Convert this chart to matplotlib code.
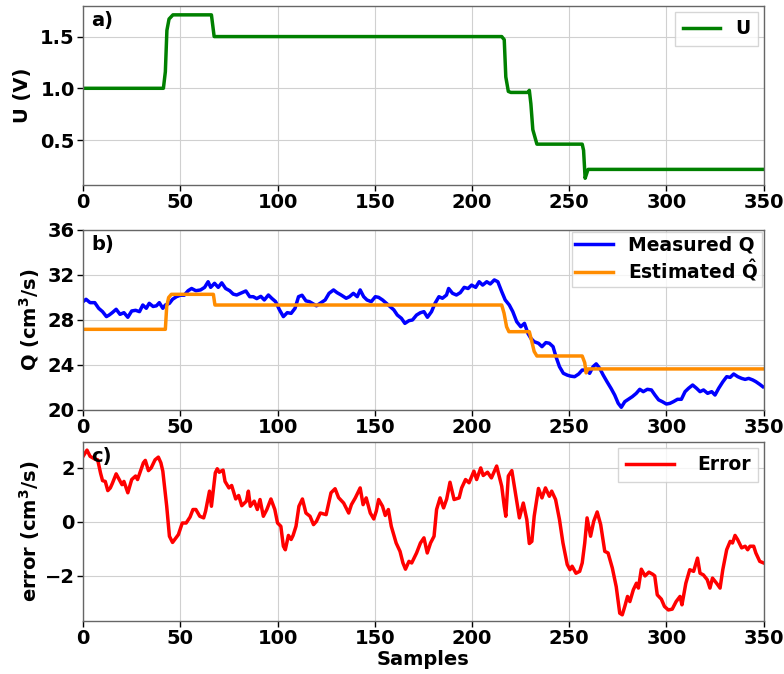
import matplotlib
matplotlib.use("Agg")
import matplotlib.pyplot as plt

# ---------------- data ----------------
u_s = [0, 41.3, 42.3, 43.1, 44.2, 46.2, 66, 67.4, 215.3, 216.6, 217.4, 218.7, 220,
       228.8, 229.5, 230.3, 231.3, 233.4, 256.7, 257.4, 258.2, 259.7, 350]
u_v = [1.0, 1.0, 1.16, 1.56, 1.67, 1.71, 1.71, 1.5, 1.5, 1.47, 1.11, 0.97, 0.96,
       0.96, 0.98, 0.85, 0.6, 0.46, 0.46, 0.4, 0.13, 0.216, 0.216]

qe_s = [0, 42.3, 43, 44, 45.4, 67, 67.8, 215.3, 216.5, 217.8, 219, 229.5, 230.8,
        232, 233.4, 256.7, 258, 258.7, 259.7, 350]
qe_v = [27.17, 27.17, 29.2, 30.0, 30.28, 30.28, 29.33, 29.33, 28.6, 27.4, 26.96,
        26.96, 26.07, 25.2, 24.8, 24.8, 24.2, 23.3, 23.65, 23.65]

qm_s = [0, 1.5, 3.6, 6, 8, 10, 12, 13.4, 15, 17, 19, 21, 23, 25, 27, 29, 30.7, 32.5,
        34, 36, 37.7, 39.2, 41, 42.3, 44.4, 46, 48, 50, 52, 54, 55.8, 58, 60.4, 62.5,
        64.3, 65.6, 67.6, 69.5, 71.3, 73.3, 75.4, 77.2, 79, 81, 83.7, 85.7, 87.5,
        89.3, 91.4, 93.2, 95.3, 97, 99, 101, 103, 105, 107, 109, 110.8, 112.6, 114.6,
        116.4, 118.5, 120, 122.4, 124.5, 126.5, 128.8, 130.6, 132.7, 135.3, 137, 139,
        141, 142.5, 144.3, 146, 148.2, 150.3, 152, 154, 156, 158, 159.8, 161.6, 163.7,
        165.5, 167.6, 169.4, 171.5, 173.5, 175.3, 177.1, 179.2, 181, 183, 184.8,
        186.9, 188, 190, 192, 194, 196, 198, 199.8, 201.9, 203.7, 205.5, 207.6,
        209.4, 211.5, 213.3, 215.3, 217.1, 219.2, 221, 223, 225.1, 227, 228.8, 230.3,
        232, 234.2, 236, 238, 239.8, 241.7, 243.2, 245, 247, 249, 250.7, 252.8, 254.9,
        256.7, 258.8, 260.5, 262.3, 263.9, 265.7, 267.5, 269.5, 271.6, 273.4, 275.2,
        276.8, 278.6, 280.4, 282.5, 284.5, 286.3, 288.1, 290.2, 292.3, 294.1, 296,
        297.9, 300, 301.8, 303.6, 305.7, 307.7, 309.6, 311.4, 313.5, 315.5, 317.3,
        319.1, 321.2, 323.3, 325, 326.9, 329, 331, 332.8, 334.6, 336.7, 338.7, 340.5,
        342.3, 344.4, 346, 348, 349.6]
qm_v = [29.63, 29.84, 29.54, 29.54, 29.04, 28.74, 28.3, 28.44, 28.65, 28.95, 28.5,
        28.65, 28.24, 28.8, 28.86, 28.74, 29.33, 29.04, 29.48, 29.2, 29.26, 29.54,
        29.04, 29.33, 29.48, 29.84, 30.07, 30.2, 30.2, 30.6, 30.8, 30.6, 30.67, 30.9,
        31.4, 30.9, 31.26, 30.9, 31.3, 30.8, 30.6, 30.3, 30.22, 30.37, 30.58, 30.07,
        30.07, 29.9, 30.1, 29.78, 30.22, 29.93, 29.63, 28.9, 28.3, 28.65, 28.59,
        29.04, 30.07, 30.2, 29.7, 29.63, 29.42, 29.26, 29.54, 29.78, 30.37, 30.67,
        30.43, 30.22, 29.93, 30.07, 30.37, 30.07, 30.67, 30.07, 29.78, 29.63, 30.07,
        30.01, 29.78, 29.48, 29.19, 28.9, 28.44, 28.15, 27.7, 27.94, 28.0, 28.44,
        28.65, 28.74, 28.24, 28.74, 29.48, 30.07, 29.93, 30.22, 30.8, 30.37, 30.22,
        30.43, 30.9, 30.8, 31.1, 30.9, 31.4, 31.1, 31.4, 31.2, 31.56, 31.4, 30.52,
        29.78, 29.33, 28.74, 27.85, 27.4, 27.7, 26.8, 26.37, 26.07, 25.93, 25.63,
        25.99, 25.93, 25.63, 24.74, 23.85, 23.26, 23.1, 23.01, 22.96, 23.2, 23.55,
        23.55, 23.26, 23.85, 24.1, 23.7, 23.1, 22.5, 21.9, 21.33, 20.6, 20.24, 20.74,
        20.95, 21.19, 21.48, 21.84, 21.63, 21.84, 21.78, 21.33, 20.9, 20.74, 20.53,
        20.59, 20.74, 20.95, 20.95, 21.63, 21.93, 22.22, 21.93, 21.63, 21.78, 21.48,
        21.63, 21.33, 21.93, 22.5, 22.96, 22.9, 23.2, 22.96, 22.81, 22.72, 22.81,
        22.67, 22.52, 22.28, 22.07]

err_s = [0, 2, 3.6, 6, 7.5, 9, 10, 11.4, 12.7, 14, 15, 17, 18.6, 20, 21, 23, 25, 27,
         28, 31, 32, 33.6, 35, 37, 38.7, 40, 41, 43, 44.4, 46, 49, 51, 53, 55, 56.5,
         58, 60, 62, 63, 65, 66, 68, 69, 70, 72, 73, 75, 76.4, 78.5, 80, 81.6, 84, 85,
         86, 88, 89.6, 91, 92.7, 94.5, 96.6, 98.6, 100, 101.7, 103, 104, 105.6, 107,
         108, 109.5, 111, 112.8, 114.6, 116.7, 118.5, 120, 122, 125, 127.5, 129.6,
         131.4, 134, 136.6, 138, 140, 142.5, 144, 145.6, 147.7, 149.5, 150.8, 152,
         154, 155.4, 157, 158.5, 161, 163, 164.5, 165.8, 167.6, 169, 171.5, 173.5,
         175.3, 177, 178.7, 180.5, 181.8, 183.6, 185.4, 187, 188.7, 190.8, 193.4,
         194.7, 196.7, 198.5, 201, 202.4, 204.5, 205.8, 208, 210, 212.7, 215.3, 216.6,
         217.4, 218.7, 220.5, 222.6, 224.4, 226.4, 228.2, 229.5, 230.8, 232, 234.2,
         236, 237.8, 239.8, 241, 243, 245, 246.8, 249, 250.4, 251.5, 253.5, 255.4,
         256.7, 258, 259.2, 261, 262.6, 264.4, 266.2, 268.3, 270, 272.2, 274.2, 276,
         277.3, 278.6, 280, 281.2, 283, 284.6, 285.6, 287.1, 289, 291, 293, 294,
         295.3, 297.4, 299, 301, 303, 305, 307, 308, 310, 312, 314, 316, 317.3, 319,
         321, 322.4, 323.7, 325.8, 327.6, 329, 331, 332.8, 334, 335.3, 336.6, 338.7,
         340.5, 341.8, 343, 344.9, 346, 348, 350]
err_v = [2.43, 2.66, 2.43, 2.33, 2.3, 1.8, 1.53, 1.5, 1.16, 1.26, 1.42, 1.78, 1.57,
         1.38, 1.5, 1.08, 1.57, 1.7, 1.57, 2.19, 2.28, 1.9, 2.0, 2.3, 2.4, 2.19, 1.88,
         0.58, -0.53, -0.76, -0.47, -0.04, -0.04, 0.18, 0.46, 0.46, 0.21, 0.15, 0.4,
         1.14, 0.58, 1.82, 1.97, 1.84, 1.92, 1.5, 1.26, 1.35, 0.85, 0.98, 0.6, 0.77,
         1.14, 0.58, 0.77, 0.46, 0.83, 0.21, 0.46, 0.85, 0.46, -0.04, -0.16, -0.9,
         -1.03, -0.5, -0.65, -0.5, -0.16, 0.58, 0.85, 0.33, 0.21, -0.1, 0.02, 0.33,
         0.27, 1.08, 1.23, 0.9, 0.7, 0.33, 0.64, 0.89, 1.26, 0.64, 0.89, 0.33, 0.11,
         0.4, 0.83, 0.58, 0.24, 0.46, -0.16, -0.78, -1.09, -1.52, -1.75, -1.46,
         -1.52, -1.15, -0.78, -0.59, -1.15, -0.78, -0.53, 0.46, 0.89, 0.52, 0.85, 1.47,
         0.83, 0.89, 1.26, 1.57, 1.45, 1.88, 1.57, 2.0, 1.72, 1.84, 1.63, 2.07, 1.32,
         0.58, 0.21, 1.7, 1.9, 0.95, 0.15, 0.7, 0.09, -0.8, -0.72, 0.21, 1.24, 0.89,
         1.26, 0.95, 1.14, 0.83, 0.09, -0.78, -1.58, -1.77, -1.64, -1.9, -1.83, -1.52,
         -0.78, 0.15, -0.53, 0.02, 0.37, -0.1, -1.09, -1.15, -1.71, -2.4, -3.38, -3.44,
         -3.13, -2.76, -2.95, -2.51, -2.27, -2.45, -1.75, -2.0, -1.86, -1.94, -2.0,
         -2.7, -2.86, -3.13, -3.26, -3.23, -2.95, -2.76, -3.07, -2.27, -1.77, -1.83,
         -1.34, -1.9, -1.96, -2.14, -2.45, -2.08, -2.27, -2.45, -1.77, -1.03, -0.72,
         -0.78, -0.5, -0.65, -0.96, -0.9, -1.03, -0.9, -0.9, -1.15, -1.46, -1.52]

xticks = [0, 50, 100, 150, 200, 250, 300, 350]

# ---------------- style ----------------
plt.rcParams['font.family'] = ['DejaVu Sans']
plt.rcParams['font.weight'] = 'bold'
plt.rcParams['mathtext.fontset'] = 'dejavusans'

fig = plt.figure(figsize=(7.84, 6.74), dpi=100)
ax_a = fig.add_axes([0.106, 0.7255, 0.868, 0.2655])
ax_b = fig.add_axes([0.106, 0.3917, 0.868, 0.2671])
ax_c = fig.add_axes([0.106, 0.0786, 0.868, 0.2656])

TICK_FS = 14
LAB_FS = 14
LEG_FS = 13.5

def style(ax):
    ax.set_xlim(0, 350)
    ax.set_xticks(xticks)
    ax.grid(True, color='#d0d0d0', linewidth=0.8)
    ax.set_axisbelow(True)
    for sp in ax.spines.values():
        sp.set_color('#666666')
        sp.set_linewidth(1.0)
    ax.tick_params(labelsize=TICK_FS, length=4, width=1, colors='black', pad=2)
    for lbl in ax.get_xticklabels() + ax.get_yticklabels():
        lbl.set_fontweight('bold')

# panel a
ax_a.plot(u_s, u_v, color='green', linewidth=2.5, label='U')
ax_a.set_ylim(0.065, 1.795)
ax_a.set_yticks([0.5, 1.0, 1.5])
ax_a.set_ylabel('U (V)', fontsize=LAB_FS, fontweight='bold', labelpad=6)
style(ax_a)
ax_a.legend(loc='upper right', prop={'weight': 'bold', 'size': LEG_FS},
            handlelength=2.0, borderaxespad=0.3, fancybox=False)
ax_a.text(0.012, 0.97, 'a)', transform=ax_a.transAxes, fontsize=14,
          fontweight='bold', va='top', ha='left')

# panel b
ax_b.plot(qm_s, qm_v, color='blue', linewidth=2.5, label='Measured Q')
ax_b.plot(qe_s, qe_v, color='darkorange', linewidth=2.5,
          label=r'Estimated $\hat{\mathbf{Q}}$')
ax_b.set_ylim(20, 36)
ax_b.set_yticks([20, 24, 28, 32, 36])
ax_b.set_ylabel(r'Q (cm$^\mathbf{3}$/s)', fontsize=LAB_FS, fontweight='bold', labelpad=4)
style(ax_b)
ax_b.legend(loc='upper right', prop={'weight': 'bold', 'size': LEG_FS},
            handlelength=2.0, borderaxespad=0.1, labelspacing=0.15, fancybox=False,
            borderpad=0.2)
ax_b.text(0.012, 0.97, 'b)', transform=ax_b.transAxes, fontsize=14,
          fontweight='bold', va='top', ha='left')

# panel c
ax_c.plot(err_s, err_v, color='red', linewidth=2.5, label='Error')
ax_c.set_ylim(-3.67, 2.96)
ax_c.set_yticks([-2, 0, 2])
ax_c.set_ylabel(r'error (cm$^\mathbf{3}$/s)', fontsize=LAB_FS, fontweight='bold', labelpad=2)
ax_c.set_xlabel('Samples', fontsize=LAB_FS, fontweight='bold', labelpad=1)
style(ax_c)
ax_c.legend(loc='upper right', prop={'weight': 'bold', 'size': LEG_FS},
            handlelength=2.6, handletextpad=1.2, borderaxespad=0.3, fancybox=False)
ax_c.text(0.012, 0.97, 'c)', transform=ax_c.transAxes, fontsize=14,
          fontweight='bold', va='top', ha='left')

fig.savefig('out.png', dpi=100)
